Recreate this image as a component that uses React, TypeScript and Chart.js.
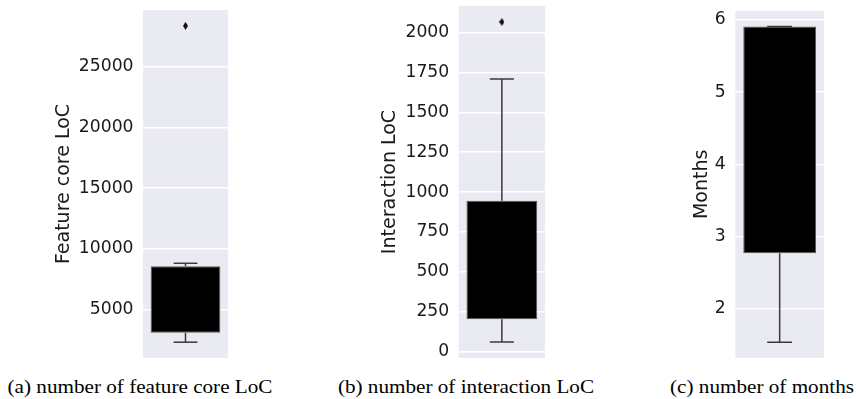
import React, { useEffect, useRef } from 'react';
import { Chart, registerables } from 'chart.js';

Chart.register(...registerables);

// ---- data ----
const featureBox = [3115, 8582]; // q1, q3
const featureWhiskers = [2350, 8830]; // low, high
const featureOutliers = [28330];
const featureTicks = [5000, 10000, 15000, 20000, 25000];

const interactionBox = [202, 946];
const interactionWhiskers = [60, 1708];
const interactionOutliers = [2066];
const interactionTicks = [0, 250, 500, 750, 1000, 1250, 1500, 1750, 2000];

const monthsBox = [2.77, 5.91];
const monthsWhiskers = [1.54, 5.91];
const monthsOutliers: number[] = [];
const monthsTicks = [2, 3, 4, 5, 6];

const axisTitles = ['Feature core LoC', 'Interaction LoC', 'Months'];
const captions = [
  '(a) number of feature core LoC',
  '(b) number of interaction LoC',
  '(c) number of months',
];

// ---- layout ----
const TITLE_SIZE = 19;
const TICK_SIZE = 17.2;
const CANVAS_H = 375;

type Spec = {
  box: number[];
  whiskers: number[];
  outliers: number[];
  ticks: number[];
  title: string;
  plotLeft: number;
  plotRight: number;
  plotTop: number;
  plotBottom: number;
  titleX: number;
};

const specs: Spec[] = [
  { box: featureBox, whiskers: featureWhiskers, outliers: featureOutliers, ticks: featureTicks, title: axisTitles[0], plotLeft: 143, plotRight: 231, plotTop: 10, plotBottom: 358, titleX: 64.5 },
  { box: interactionBox, whiskers: interactionWhiskers, outliers: interactionOutliers, ticks: interactionTicks, title: axisTitles[1], plotLeft: 458.7, plotRight: 547.7, plotTop: 6, plotBottom: 358, titleX: 390.5 },
  { box: monthsBox, whiskers: monthsWhiskers, outliers: monthsOutliers, ticks: monthsTicks, title: axisTitles[2], plotLeft: 735.3, plotRight: 824, plotTop: 10.7, plotBottom: 358, titleX: 702.5 },
];

const captionCenters = [140, 466, 762];

const bgPlugin = {
  id: 'plotBg',
  beforeDraw(chart: any) {
    const { ctx, chartArea } = chart;
    if (!chartArea) return;
    ctx.save();
    ctx.fillStyle = '#EAEAF2';
    ctx.fillRect(chartArea.left, chartArea.top, chartArea.right - chartArea.left, chartArea.bottom - chartArea.top);
    ctx.restore();
  },
};

function makeDiamond(): HTMLCanvasElement {
  const c = document.createElement('canvas');
  c.width = 5;
  c.height = 8;
  const g = c.getContext('2d')!;
  g.fillStyle = '#111';
  g.beginPath();
  g.moveTo(2.5, 0);
  g.lineTo(5, 4);
  g.lineTo(2.5, 8);
  g.lineTo(0, 4);
  g.closePath();
  g.fill();
  return c;
}

const WHISKER = '#3a3a3a';
const CAP_HALF = 0.21;

function BoxPanel({ spec }: { spec: Spec }) {
  const ref = useRef<HTMLCanvasElement>(null);
  const left = Math.round(spec.titleX - (TITLE_SIZE * 1.2) / 2);
  const width = Math.ceil(spec.plotRight) + 2 - left;
  const scaleWidth = spec.plotLeft - left;

  useEffect(() => {
    const canvas = ref.current;
    if (!canvas) return;
    const [q1, q3] = spec.box;
    const [lo, hi] = spec.whiskers;
    const all = [lo, hi, ...spec.outliers];
    const dmin = Math.min(...all);
    const dmax = Math.max(...all);
    const margin = (dmax - dmin) * 0.05;

    const lineDs = (pts: { x: number; y: number }[]) => ({
      type: 'line' as const,
      xAxisID: 'xw',
      data: pts,
      borderColor: WHISKER,
      borderWidth: 1.5,
      pointRadius: 0,
      fill: false,
      order: 1,
    });

    const chart = new Chart(canvas, {
      type: 'bar',
      data: {
        labels: [''],
        datasets: [
          {
            type: 'bar',
            xAxisID: 'x',
            data: [[q1, q3]] as any,
            backgroundColor: '#000000',
            borderColor: '#5a5a5a',
            borderWidth: 1,
            borderSkipped: false,
            barPercentage: 0.82,
            categoryPercentage: 1,
            grouped: false,
            order: 2,
          } as any,
          lineDs([{ x: 0, y: lo }, { x: 0, y: q1 }]),
          lineDs([{ x: 0, y: q3 }, { x: 0, y: hi }]),
          lineDs([{ x: -CAP_HALF, y: lo }, { x: CAP_HALF, y: lo }]),
          lineDs([{ x: -CAP_HALF, y: hi }, { x: CAP_HALF, y: hi }]),
          {
            type: 'scatter',
            xAxisID: 'xw',
            data: spec.outliers.map((v) => ({ x: 0, y: v })),
            pointStyle: makeDiamond(),
            pointRadius: 4,
            order: 0,
          } as any,
        ],
      },
      options: {
        responsive: false,
        animation: false,
        events: [],
        layout: {
          padding: {
            top: spec.plotTop,
            bottom: CANVAS_H - spec.plotBottom,
            left: 0,
            right: width - (spec.plotRight - left),
          },
        },
        plugins: {
          legend: { display: false },
          tooltip: { enabled: false },
          title: { display: false },
        },
        scales: {
          x: { type: 'category', display: false, offset: true },
          xw: { type: 'linear', display: false, min: -0.5, max: 0.5 },
          y: {
            type: 'linear',
            min: dmin - margin,
            max: dmax + margin,
            border: { display: false },
            grid: { color: '#ffffff', lineWidth: 1.5, drawTicks: false },
            ticks: {
              includeBounds: false,
              padding: 9.5,
              color: '#1a1a1a',
              font: { family: 'DejaVu Sans', size: TICK_SIZE },
              callback: (v: any) => String(v),
            },
            title: {
              display: true,
              text: spec.title,
              color: '#1a1a1a',
              padding: 0,
              font: { family: 'DejaVu Sans', size: TITLE_SIZE },
            },
            afterBuildTicks: (scale: any) => {
              scale.ticks = spec.ticks.map((v) => ({ value: v }));
            },
            afterFit: (scale: any) => {
              scale.width = scaleWidth;
              scale.paddingTop = 0;
              scale.paddingBottom = 0;
            },
          },
        },
      } as any,
      plugins: [bgPlugin],
    });
    return () => chart.destroy();
  }, []);

  return (
    <canvas
      ref={ref}
      width={width}
      height={CANVAS_H}
      style={{ position: 'absolute', left, top: 0, width, height: CANVAS_H }}
    />
  );
}

export default function App() {
  return (
    <div
      style={{
        position: 'fixed',
        left: 0,
        top: 0,
        width: 856,
        height: 399,
        background: '#ffffff',
        overflow: 'hidden',
      }}
    >
      {specs.map((s, i) => (
        <BoxPanel key={i} spec={s} />
      ))}
      {captions.map((c, i) => (
        <div
          key={'c' + i}
          style={{
            position: 'absolute',
            left: captionCenters[i] - 160,
            width: 320,
            top: 376.7,
            textAlign: 'center',
            fontFamily: '"Liberation Serif", "Times New Roman", serif',
            fontSize: 19.5,
            lineHeight: '19.5px',
            color: '#000',
            whiteSpace: 'nowrap',
            transform: 'scaleX(1.085)',
            transformOrigin: '50% 50%',
          }}
        >
          {c}
        </div>
      ))}
    </div>
  );
}
